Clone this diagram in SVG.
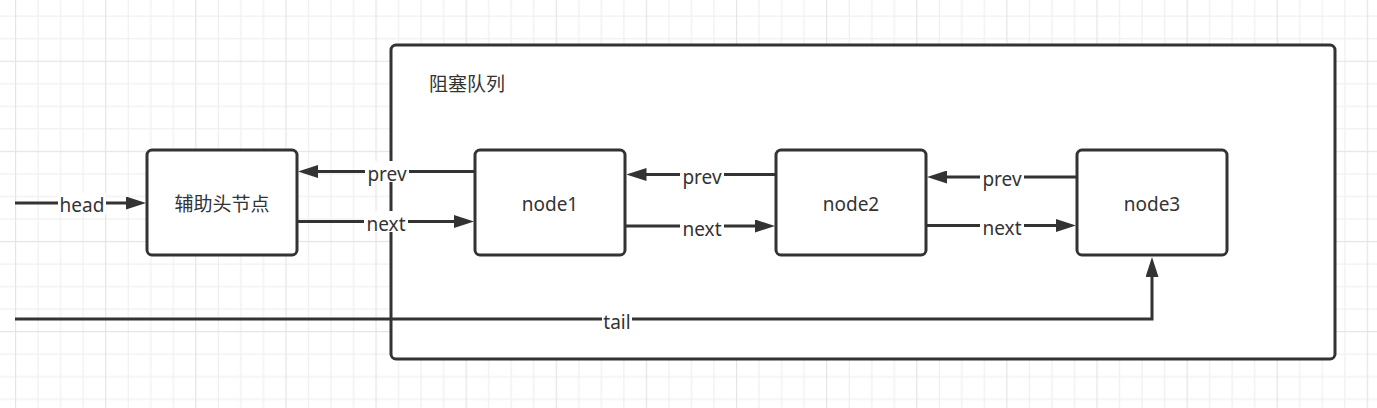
<svg xmlns="http://www.w3.org/2000/svg" width="1377" height="408" viewBox="0 0 1377 408">
<defs>
<pattern id="grid" patternUnits="userSpaceOnUse" x="15" y="60.7" width="90.12" height="90.12">
<rect x="22.53" y="0" width="1.2" height="90.12" fill="#f0f0f0"/>
<rect x="45.06" y="0" width="1.2" height="90.12" fill="#f0f0f0"/>
<rect x="67.59" y="0" width="1.2" height="90.12" fill="#f0f0f0"/>
<rect x="0" y="22.53" width="90.12" height="1.2" fill="#f0f0f0"/>
<rect x="0" y="45.06" width="90.12" height="1.2" fill="#f0f0f0"/>
<rect x="0" y="67.59" width="90.12" height="1.2" fill="#f0f0f0"/>
<rect x="0" y="0" width="1.2" height="90.12" fill="#e4e4e4"/>
<rect x="0" y="0" width="90.12" height="1.2" fill="#e4e4e4"/>
</pattern>
<marker id="arr" markerUnits="userSpaceOnUse" viewBox="0 0 20 13" refX="10" refY="6.5" markerWidth="20" markerHeight="13" orient="auto">
<path d="M0,0 L20,6.5 L0,13 z" fill="#333"/>
</marker>
</defs>
<style>
.box{fill:#fff;stroke:#333;stroke-width:3}
.t{font-family:"Noto Sans","Noto Sans CJK SC",sans-serif;font-size:19px;fill:#333}
.c{text-anchor:middle}
.ln{fill:none;stroke:#333;stroke-width:3;marker-end:url(#arr)}
.lnp{fill:none;stroke:#333;stroke-width:3}
.bg{fill:#fff}
</style>
<rect x="0" y="0" width="1377" height="408" fill="#fff"/>
<rect x="0" y="0" width="1377" height="408" fill="url(#grid)"/>

<g id="queue">
<rect class="box" x="391" y="45" width="944" height="314" rx="5"/>
<text class="t" x="429" y="91">阻塞队列</text>
</g>

<g id="head-node">
<rect class="box" x="147" y="150" width="150" height="105" rx="5"/>
<text class="t c" x="222" y="211">辅助头节点</text>
</g>
<g id="node1">
<rect class="box" x="475" y="150" width="150" height="105" rx="5"/>
<text class="t c" x="550" y="211">node1</text>
</g>
<g id="node2">
<rect class="box" x="776" y="150" width="150" height="105" rx="5"/>
<text class="t c" x="851" y="211">node2</text>
</g>
<g id="node3">
<rect class="box" x="1077" y="150" width="150" height="105" rx="5"/>
<text class="t c" x="1152" y="211">node3</text>
</g>

<g id="connectors">
<path class="ln" d="M15,203 L136,203"/>
<rect class="bg" x="58" y="193" width="48" height="21"/>
<text class="t c" x="82" y="212">head</text>

<path class="ln" d="M475,171.5 L308,171.5"/>
<rect class="bg" x="365" y="161" width="44" height="21"/>
<text class="t c" x="387" y="180.5">prev</text>
<path class="ln" d="M297,221.5 L464,221.5"/>
<rect class="bg" x="364" y="211" width="44" height="21"/>
<text class="t c" x="386" y="231">next</text>

<path class="ln" d="M776,174.5 L636.5,174.5"/>
<rect class="bg" x="680" y="164" width="44" height="21"/>
<text class="t c" x="702" y="183.5">prev</text>
<path class="ln" d="M625,226 L765,226"/>
<rect class="bg" x="680" y="216" width="44" height="21"/>
<text class="t c" x="702" y="235.5">next</text>

<path class="ln" d="M1077,177 L937,177"/>
<rect class="bg" x="980" y="167" width="44" height="21"/>
<text class="t c" x="1002" y="186">prev</text>
<path class="ln" d="M926,225.5 L1066,225.5"/>
<rect class="bg" x="980" y="215" width="44" height="21"/>
<text class="t c" x="1002" y="235">next</text>

<path class="ln" d="M15,319 L1152,319 L1152,267"/>
<rect class="bg" x="602" y="309" width="30" height="21"/>
<text class="t c" x="617" y="328.5">tail</text>
</g>
</svg>
